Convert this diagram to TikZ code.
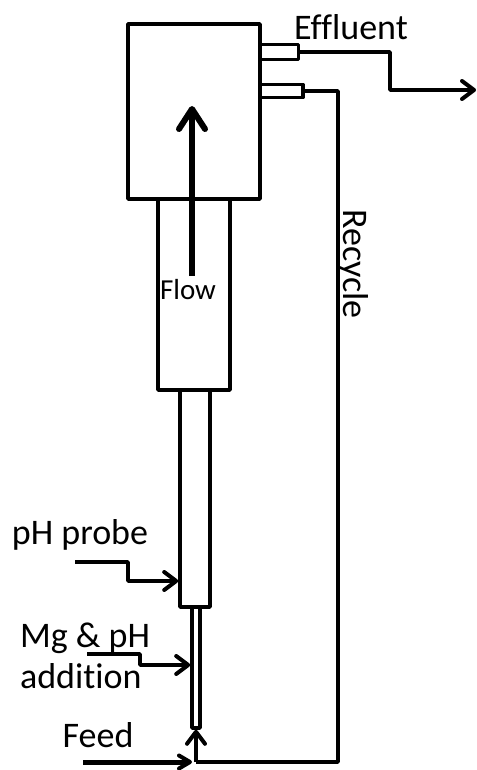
\documentclass[tikz,border=0pt]{standalone}
\usepackage{fontspec}
\setmainfont[Ligatures=NoCommon]{Carlito}
\usetikzlibrary{arrows.meta}
\tikzset{
  vessel/.style={draw,line width=3.6pt,fill=white,inner sep=0pt,line join=round},
  lbl/.style={inner sep=0pt,font=\fontsize{36}{36}\selectfont},
  pipe/.style={line width=3.6pt,line join=round},
  arr/.style={pipe,-{Straight Barb[length=12pt,width=18pt,line width=4pt,round]}}
}
\begin{document}
\begin{tikzpicture}[x=1pt,y=-1pt]
  \useasboundingbox (0,0) rectangle (476,770);

  % ports first, the vessel goes on top
  \node[vessel,minimum width=39pt,minimum height=15pt] (port1) at (279,52) {};
  \node[vessel,minimum width=44pt,minimum height=13pt] (port2) at (281,91) {};

  \node[vessel,minimum width=132pt,minimum height=175pt] (head) at (194,111.5) {};
  \node[vessel,minimum width=72pt,minimum height=191pt] (upper) at (194,294.5) {};
  \node[vessel,minimum width=30pt,minimum height=217pt] (lower) at (195,498.5) {};
  \node[vessel,minimum width=8pt,minimum height=121pt] (inlet) at (196,667.5) {};

  \node[lbl] (effl) at (351,27) {Effluent};
  \node[lbl,rotate=-90] (recy) at (353,264) {Recycle};
  \node[lbl,font=\fontsize{29}{29}\selectfont] (flow) at (188,290) {Flow};
  \node[lbl] (probe) at (80,535) {pH probe};
  \node[lbl,align=left] (mgph) at (85,656) {Mg \& pH\\[5pt]addition};
  \node[lbl] (feed) at (98,735) {Feed};

  \coordinate (out) at (476,90);
  \coordinate (bend1) at (338,91);
  \coordinate (bend2) at (338,762);
  \coordinate (junc) at (196,762);
  \coordinate (s1) at (75,562);
  \coordinate (s2) at (87,654);
  \coordinate (s3) at (83,762);
  \coordinate (flowtip) at (192,106);
  \coordinate (flowtail) at (192,276);

  \draw[arr] (port1.east) -- (390,52) -- (390,90) -- (out);
  \draw[pipe] (port2.east) -- (bend1) -- (bend2) -- (junc);
  \draw[arr] (junc) -- (inlet.south);
  \draw[pipe,line width=5pt,shorten >=4pt,-{Straight Barb[length=11pt,width=13pt,line width=4pt,round]}] (s3) -- (junc);
  \draw[arr] (s1) -- (128,562) -- (128,581) -- (lower.west |- 0,581);
  \draw[arr] (s2) -- (140,654) -- (140,665) -- (inlet.west |- 0,665);
  \draw[pipe,line width=6pt,-{Straight Barb[length=20pt,width=26pt,line width=6pt,round]}] (flowtail) -- (flowtip);
\end{tikzpicture}
\end{document}
